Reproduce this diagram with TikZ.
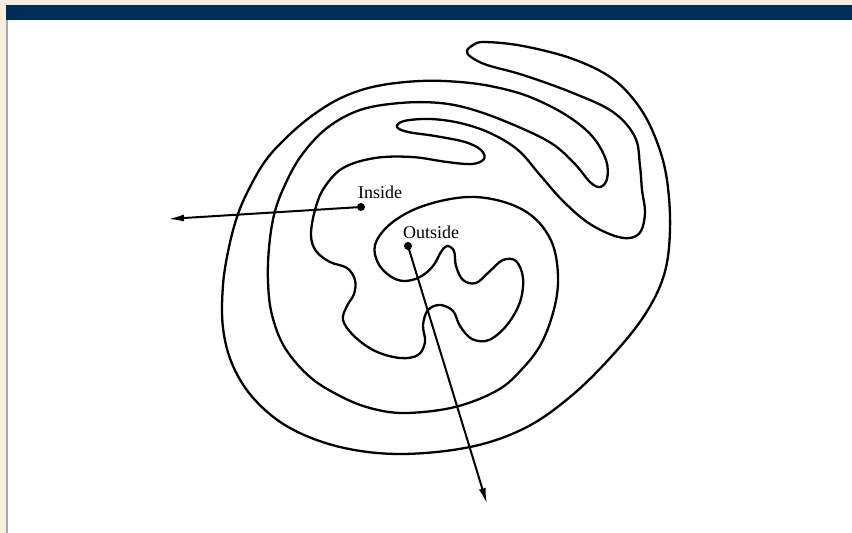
\documentclass[tikz,border=0pt]{standalone}
\usepackage{fontspec}
\setmainfont{Liberation Serif}
\usetikzlibrary{arrows.meta}
\definecolor{pagebeige}{RGB}{246,238,225}
\definecolor{barnavy}{RGB}{2,45,90}
\definecolor{edgegray}{RGB}{168,168,168}
\tikzset{
  jordan/.style={line width=2.3pt, black, line join=round},
  ray/.style={line width=2pt, black, -{Latex[length=16pt,width=7pt]}},
  pt/.style={circle, fill=black, inner sep=0pt, minimum size=8pt},
  lbl/.style={font=\fontsize{18}{20}\selectfont, inner sep=0pt}
}
\begin{document}
\begin{tikzpicture}[x=1pt,y=-1pt]
\useasboundingbox (0,0) rectangle (852,533);
\fill[pagebeige] (0,0) rectangle (852,533);
\fill[barnavy] (6,5) rectangle (852,20);
\fill[white] (8,20) rectangle (852,533);
\fill[edgegray] (6,20) rectangle (8,533);

\draw[jordan] plot[smooth cycle, tension=0.6] coordinates {
(467,51) (473,45) (485,42) (523,46) (573,59) (613,79) (640,108) (657,142)
(667,180) (670,230) (664,275) (644,316) (610,358) (570,397) (525,428)
(470,447) (400,454) (340,447) (290,428) (255,400) (233,366) (223,328)
(223,285) (229,247) (238,214) (250,187) (266,160) (287,137) (313,115)
(343,97) (377,86) (420,81) (460,82) (495,87) (530,97) (566,115) (592,136)
(606,160) (607,179) (600,187) (590,182) (574,163) (551,143) (514,125)
(474,110) (440,103) (400,103) (360,110) (327,128) (301,156) (284,187)
(274,215) (269,248) (268,282) (272,315) (285,348) (310,377) (340,396)
(370,408) (405,413) (455,407) (498,390) (523,368) (541,344) (553,313)
(558,283) (555,252) (545,230) (528,213) (504,202) (475,197) (445,200)
(413,210) (388,226) (375,245) (378,263) (390,276) (404,281) (420,277)
(433,266) (441,252) (447,246) (454,251) (456,266) (463,280) (476,283)
(490,271) (503,260) (516,261) (523,278) (520,302) (507,325) (489,340)
(472,339) (460,326) (453,311) (440,305) (428,310) (423,325) (425,342)
(418,355) (400,358) (375,351) (354,336) (343,320) (347,306) (354,294)
(355,280) (347,268) (330,262) (316,251) (311,235) (315,210) (324,188)
(343,168) (375,158) (412,157) (447,162) (472,164) (484,159) (481,150)
(465,142) (435,136) (408,132) (397,127) (404,121) (430,119) (460,123)
(490,133) (518,150) (540,175) (562,200) (587,222) (612,235) (630,238)
(641,231) (645,212) (642,190) (640,166) (635,137) (613,112) (573,93)
(523,75) (487,65) (471,57)
};

\node[pt] (inpt) at (361,207) {};
\node[pt] (outpt) at (408,246) {};
\coordinate (inend) at (168,219);
\coordinate (outend) at (487,504);
\draw[ray] (inpt.center) -- (inend);
\draw[ray] (outpt.center) -- (outend);

\node[lbl] (inlbl) at (380,192) {Inside};
\node[lbl] (outlbl) at (431,232) {Outside};
\end{tikzpicture}
\end{document}
